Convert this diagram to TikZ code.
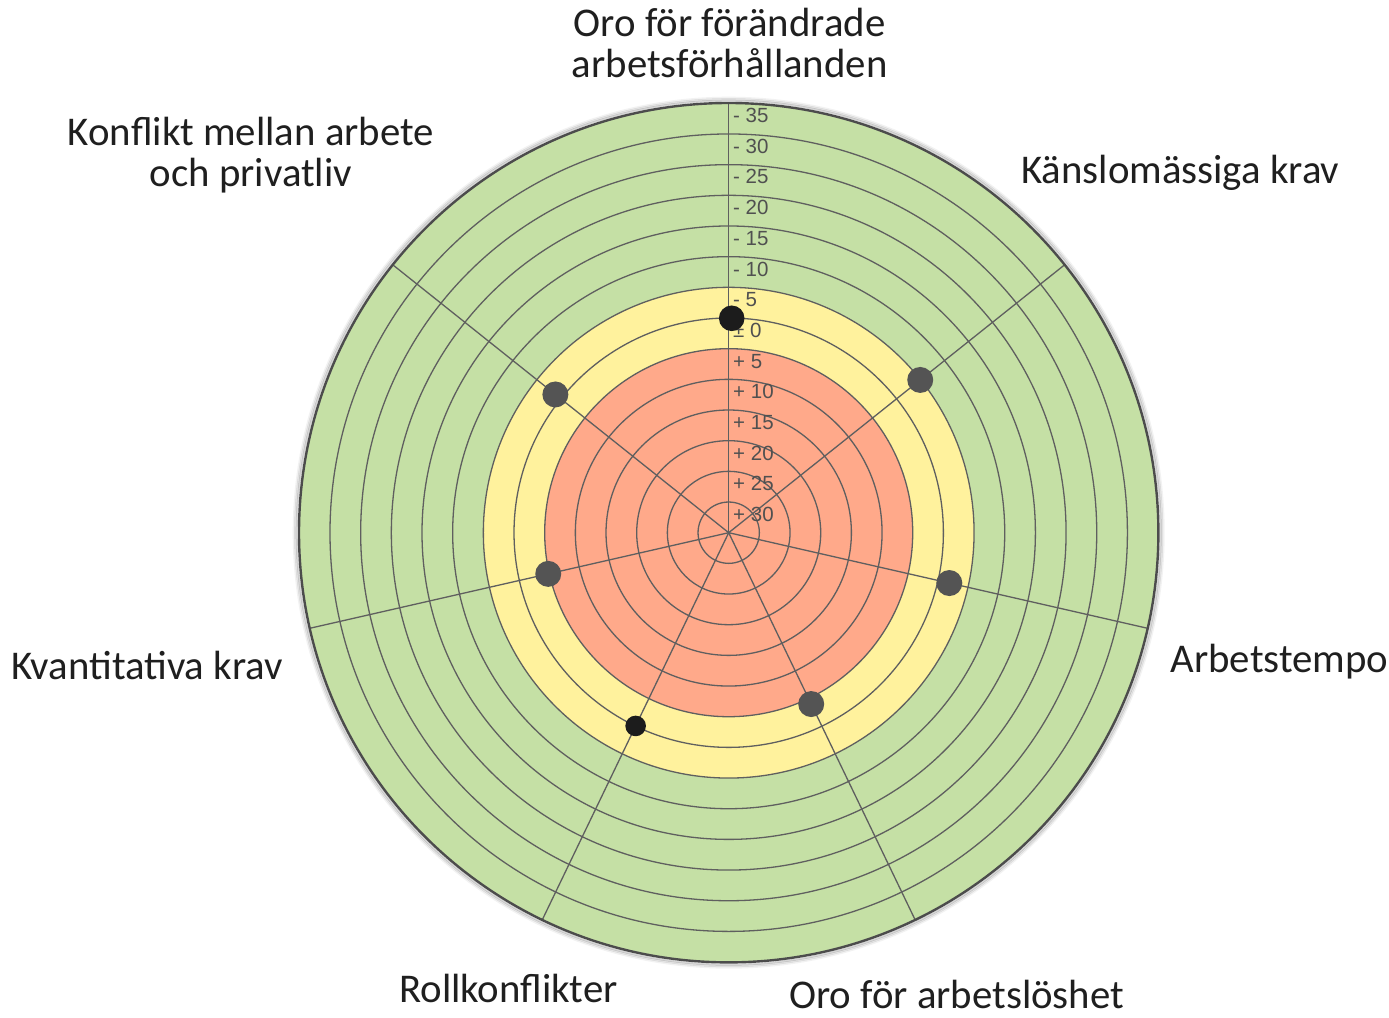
\documentclass[tikz,border=0pt]{standalone}
\usepackage{fontspec}
\setmainfont{Carlito}
\newfontfamily\valfont{Liberation Sans}
\usetikzlibrary{calc}
\definecolor{ringgreen}{RGB}{197,224,165}
\definecolor{ringyellow}{RGB}{255,242,157}
\definecolor{ringred}{RGB}{255,169,138}
\definecolor{gridline}{RGB}{95,95,95}
\definecolor{dotgrey}{RGB}{84,84,84}
\definecolor{dotblack}{RGB}{28,28,28}
\definecolor{valgrey}{RGB}{80,80,80}
\begin{document}
\begin{tikzpicture}[x=1pt,y=1pt,
  ringline/.style={draw=gridline, line width=1.3pt},
  spokeline/.style={draw=gridline, line width=1.3pt},
  outerline/.style={draw=gridline!80!black, line width=2.4pt},
  vallab/.style={font=\valfont\fontsize{20.5}{22}\selectfont, text=valgrey, inner sep=0pt, anchor=west},
  catlab/.style={font=\fontsize{40.8}{41}\selectfont, text=black!88, inner sep=0pt},
  greydot/.style={circle, fill=dotgrey, inner sep=0pt, minimum size=26pt},
  blackdot/.style={circle, fill=dotblack, inner sep=0pt, minimum size=25.6pt},
  smalldot/.style={circle, fill=dotblack, inner sep=0pt, minimum size=20.6pt}]
\useasboundingbox[fill=white] (0,0) rectangle (1389,1017);
\coordinate (c) at (728.7,484.3);
% shadow
\foreach \r/\o in {435/0.05,433.5/0.10,432/0.16} {
  \draw[black, opacity=\o, line width=2pt] (c) circle[radius=\r pt];
}
% zones
\fill[ringgreen] (c) circle[radius=429.7pt];
\fill[ringyellow] (c) circle[radius=245.3pt];
\fill[ringred] (c) circle[radius=184pt];
% rings
\foreach \k in {1,...,13} {
  \draw[ringline] (c) circle[radius=\k*30.67pt];
}
% spokes
\foreach \a [count=\i] in {90,38.571,-12.857,-64.286,-115.714,-167.143,141.429} {
  \coordinate (s\i) at ($(c)+(\a:429.7pt)$);
  \draw[spokeline] (c) -- (s\i);
}
\draw[outerline] (c) circle[radius=429.7pt];
% value labels
\foreach \t [count=\k from 0] in {- 35,- 30,- 25,- 20,- 15,- 10,- 5,± 0,+ 5,+ 10,+ 15,+ 20,+ 25,+ 30} {
  \node[vallab] (v\k) at (733, {1017-115.5-\k*30.7}) {\t};
}
% data points
\node[blackdot] (d1) at (731.7,698.7) {};
\node[greydot] (d2) at ($(c)+(38.571:245pt)$) {};
\node[greydot] (d3) at ($(c)+(-12.857:226.3pt)$) {};
\node[greydot] (d4) at ($(c)+(-64.286:190.2pt)$) {};
\node[smalldot] (d5) at ($(c)+(-115.714:214.5pt)$) {};
\node[greydot] (d6) at ($(c)+(-167.143:185.1pt)$) {};
\node[greydot] (d7) at ($(c)+(141.429:221.7pt)$) {};
% category labels (multi-line nodes: base = last line)
\node[catlab, align=center, anchor=base] (t1) at (729.7,939.7) {Oro för förändrade\\arbetsförhållanden};
\node[catlab, anchor=base west] (t2) at (1021,833) {Känslomässiga krav};
\node[catlab, anchor=base west] (t3) at (1170.5,344.3) {Arbetstempo};
\node[catlab, anchor=base west] (t4) at (789,8.5) {Oro för arbetslöshet};
\node[catlab, anchor=base west] (t5) at (399,14) {Rollkonflikter};
\node[catlab, anchor=base west] (t6) at (11.5,337.7) {Kvantitativa krav};
\node[catlab, align=center, anchor=base] (t7) at (251,830.3) {Konflikt mellan arbete\\och privatliv};
\end{tikzpicture}
\end{document}
